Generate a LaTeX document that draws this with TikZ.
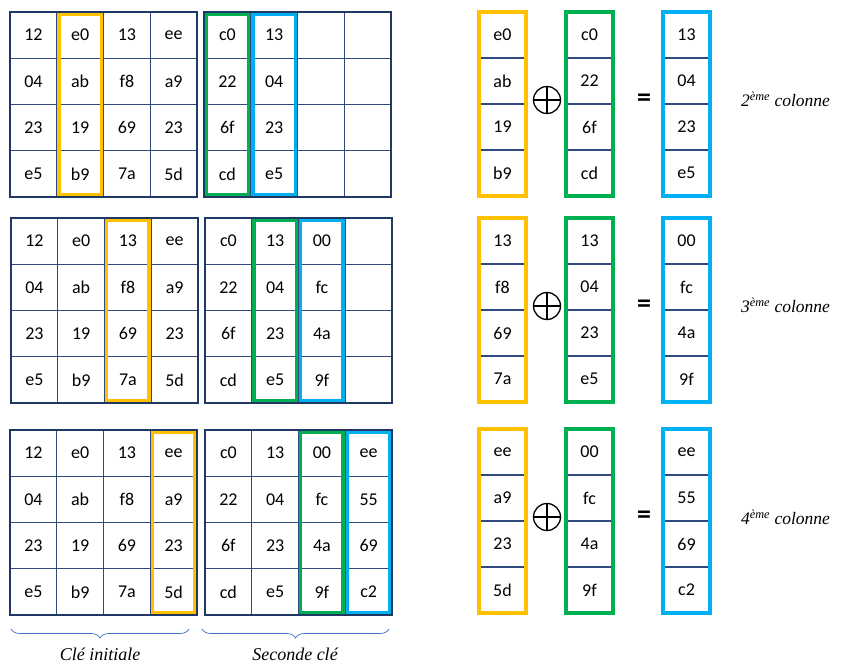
\documentclass[tikz,border=0pt]{standalone}
\usepackage{fontspec}
\setmainfont{Carlito}
\newfontfamily\serifit{Liberation Serif}
\usetikzlibrary{decorations.pathreplacing}
\definecolor{navy}{HTML}{1F3864}
\definecolor{gridl}{HTML}{2F4A7F}
\definecolor{ygold}{HTML}{FFC000}
\definecolor{grn}{HTML}{00B050}
\definecolor{blu}{HTML}{00B0F0}
\definecolor{brcol}{HTML}{4472C4}
\newcommand\mygrid[4]{%
  \foreach \rl [count=\i] in {#4} {
    \foreach \v [count=\j] in \rl {
      \node[cell] (#1-\i-\j) at ({#2+(\j-0.5)*46.75},{#3+(\i-0.5)*46.25}) {\v};
    }
  }
  \foreach \k in {1,2,3} {
    \draw[gline] ({#2+\k*46.75},#3) -- ({#2+\k*46.75},{#3+185});
    \draw[gline] (#2,{#3+\k*46.25}) -- ({#2+187},{#3+\k*46.25});
  }
  \draw[frame] (#2,#3) rectangle ({#2+187},{#3+185});
}
\newcommand\myhl[4]{% x0, y0, column, colour
  \draw[hl, draw=#4] ({#1+(#3-1)*46.75+2.2},{#2+2.2}) rectangle ({#1+#3*46.75-2.2},{#2+182.8});
}
\newcommand\mycol[5]{% name, x0, y0, colour, list
  \foreach \v [count=\i] in {#5} {
    \node[cell] (#1-\i) at ({#2+23.5},{#3+(\i-0.5)*46}) {\v};
  }
  \foreach \k in {1,2,3} {
    \draw[gline] (#2,{#3+\k*46}) -- ({#2+47},{#3+\k*46});
  }
  \draw[hl, draw=#4] (#2,#3) rectangle ({#2+47},{#3+184});
}
\begin{document}
\begin{tikzpicture}[x=1pt,y=-1pt,
  cell/.style={inner sep=0pt, font=\fontsize{18}{18}\selectfont},
  frame/.style={draw=navy, line width=2.8pt},
  gline/.style={draw=gridl, line width=1.1pt},
  hl/.style={line width=3.3pt},
  oplusnode/.style={draw, circle, minimum size=27pt, inner sep=0pt, line width=1.3pt},
  eqnode/.style={font=\bfseries\fontsize{28}{28}\selectfont, inner sep=0pt},
  lbl/.style={font=\serifit\itshape\fontsize{17.5}{17.5}\selectfont, anchor=west, inner sep=0pt},
  bracelbl/.style={font=\serifit\itshape\fontsize{18}{18}\selectfont, inner sep=0pt},
  bracepath/.style={draw=brcol, line width=0.7pt, decorate, decoration={brace, mirror, amplitude=9pt}}
]
\useasboundingbox (0,0) rectangle (847,669);
\fill[white] (0,0) rectangle (847,669);

% ---------- row 1 ----------
\mygrid{A1}{10}{12}{{12,e0,13,ee},{04,ab,f8,a9},{23,19,69,23},{e5,b9,7a,5d}}
\mygrid{B1}{204}{12}{{c0,13,{},{}},{22,04,{},{}},{6f,23,{},{}},{cd,e5,{},{}}}
\myhl{10}{12}{2}{ygold}
\myhl{204}{12}{1}{grn}
\myhl{204}{12}{2}{blu}
\mycol{Y1}{479}{12}{ygold}{e0,ab,19,b9}
\mycol{G1}{566}{12}{grn}{c0,22,6f,cd}
\mycol{C1}{663}{12}{blu}{13,04,23,e5}
\node[oplusnode] (op1) at (547,100) {};
\draw[line width=1.3pt] (op1.north) -- (op1.south) (op1.west) -- (op1.east);
\node[eqnode] (eq1) at (644,100) {=};
\node[lbl] (l1) at (741,99) {2\textsuperscript{ème} colonne};

% ---------- row 2 ----------
\mygrid{A2}{11}{218}{{12,e0,13,ee},{04,ab,f8,a9},{23,19,69,23},{e5,b9,7a,5d}}
\mygrid{B2}{205}{218}{{c0,13,00,{}},{22,04,fc,{}},{6f,23,4a,{}},{cd,e5,9f,{}}}
\myhl{11}{218}{3}{ygold}
\myhl{205}{218}{2}{grn}
\myhl{205}{218}{3}{blu}
\mycol{Y2}{479}{218}{ygold}{13,f8,69,7a}
\mycol{G2}{566}{218}{grn}{13,04,23,e5}
\mycol{C2}{663}{218}{blu}{00,fc,4a,9f}
\node[oplusnode] (op2) at (547,306) {};
\draw[line width=1.3pt] (op2.north) -- (op2.south) (op2.west) -- (op2.east);
\node[eqnode] (eq2) at (644,306) {=};
\node[lbl] (l2) at (741,305) {3\textsuperscript{ème} colonne};

% ---------- row 3 ----------
\mygrid{A3}{10}{430}{{12,e0,13,ee},{04,ab,f8,a9},{23,19,69,23},{e5,b9,7a,5d}}
\mygrid{B3}{205}{430}{{c0,13,00,ee},{22,04,fc,55},{6f,23,4a,69},{cd,e5,9f,c2}}
\myhl{10}{430}{4}{ygold}
\myhl{205}{430}{3}{grn}
\myhl{205}{430}{4}{blu}
\mycol{Y3}{479}{429}{ygold}{ee,a9,23,5d}
\mycol{G3}{566}{429}{grn}{00,fc,4a,9f}
\mycol{C3}{663}{429}{blu}{ee,55,69,c2}
\node[oplusnode] (op3) at (547,517) {};
\draw[line width=1.3pt] (op3.north) -- (op3.south) (op3.west) -- (op3.east);
\node[eqnode] (eq3) at (644,517) {=};
\node[lbl] (l3) at (741,517) {4\textsuperscript{ème} colonne};

% ---------- braces ----------
\coordinate (ba1) at (11,629);
\coordinate (ba2) at (189,629);
\coordinate (bb1) at (202,629);
\coordinate (bb2) at (389,629);
\draw[bracepath] (ba1) -- (ba2);
\draw[bracepath] (bb1) -- (bb2);
\node[bracelbl] (cle1) at (100,654) {Clé initiale};
\node[bracelbl] (cle2) at (295,654) {Seconde clé};
\end{tikzpicture}
\end{document}
